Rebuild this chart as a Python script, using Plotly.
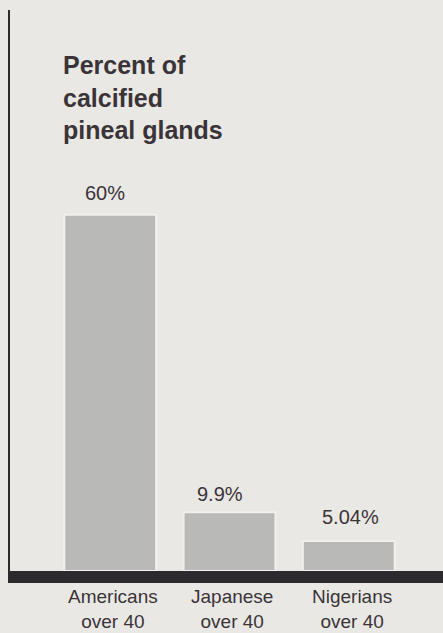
import plotly.graph_objects as go

groups = ['Americans<br>over 40', 'Japanese<br>over 40', 'Nigerians<br>over 40']
percent = [60, 9.9, 5.04]
value_labels = ['60%', '9.9%', '5.04%']

paper = '#e9e8e4'
ink = '#3a3438'
bar_grey = '#b9b9b7'
font_family = 'Liberation Sans, Arial, Helvetica, sans-serif'

fig = go.Figure()
fig.add_trace(go.Bar(
    x=groups,
    y=percent,
    width=0.77,
    marker=dict(color=bar_grey, line=dict(color='#f1f0ec', width=2)),
    hoverinfo='skip',
    showlegend=False,
))

# small nudges so the labels sit where the original printer put them
label_shift = [(-5, 9), (-9, 5), (2, 11)]
for g, v, txt, (dx, dy) in zip(groups, percent, value_labels, label_shift):
    fig.add_annotation(
        x=g, y=v, text=txt, showarrow=False,
        xanchor='center', yanchor='bottom', xshift=dx, yshift=dy,
        font=dict(family=font_family, size=20, color=ink),
    )

for g in groups:
    fig.add_annotation(
        x=g, y=0, yref='paper', text=g, showarrow=False,
        xanchor='center', yanchor='top', align='center',
        xshift=3, yshift=-13,
        font=dict(family=font_family, size=19, color=ink),
    )

fig.update_layout(
    width=443,
    height=633,
    paper_bgcolor=paper,
    plot_bgcolor=paper,
    margin=dict(l=10, r=0, t=10, b=62),
    title=dict(
        text='<b>Percent of<br>calcified<br>pineal glands</b>',
        x=63 / 443, xanchor='left', xref='container',
        y=1 - 74 / 633, yanchor='top', yref='container',
        font=dict(family=font_family, size=25, color=ink),
    ),
    xaxis=dict(
        type='category',
        range=[-0.84, 2.79],
        showticklabels=False,
        showgrid=False,
        zeroline=False,
        showline=True,
        linecolor='#2d2a2f',
        linewidth=12,
        ticks='',
        fixedrange=True,
    ),
    yaxis=dict(
        range=[0, 94.5],
        showticklabels=False,
        showgrid=False,
        zeroline=False,
        showline=True,
        linecolor='#2d2a2f',
        linewidth=2,
        ticks='',
        fixedrange=True,
    ),
    bargap=0.23,
)

fig.write_html(
    'out.html',
    config={'displayModeBar': False},
    post_script=(
        "document.body.style.margin='0';"
        "document.body.style.overflow='hidden';"
        "document.documentElement.style.background='" + paper + "';"
    ),
)
